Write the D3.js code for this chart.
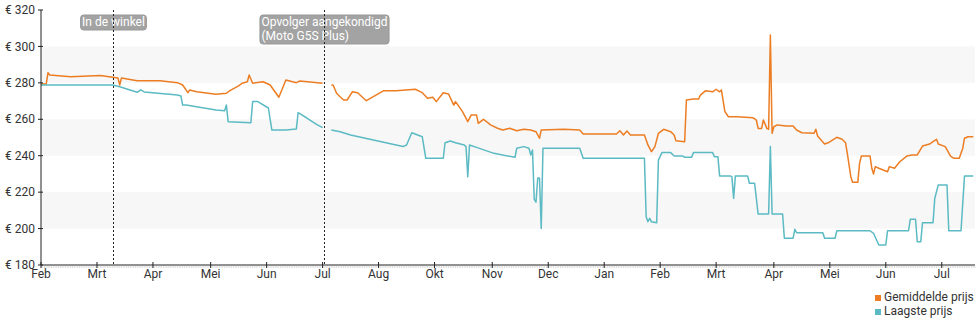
<!DOCTYPE html>
<html>
<head>
<meta charset="utf-8">
<script src="https://cdn.jsdelivr.net/npm/d3@7"></script>
<style>
  body { margin: 0; background: #fff; }
  svg { font-family: Roboto, "Noto Sans", sans-serif; }
</style>
</head>
<body>
<svg id="chart" width="980" height="325"></svg>
<script>
// days counted from the first day shown on the chart
const totalDays = 534;

// x-axis ticks (day offsets) and their month labels
const tickDays = [0, 32, 64, 97, 129, 161, 193, 225, 258, 290, 322, 354, 386, 419, 451, 483, 515];
const tickLabels = ['Feb', 'Mrt', 'Apr', 'Mei', 'Jun', 'Jul', 'Aug', 'Okt', 'Nov', 'Dec', 'Jan', 'Feb', 'Mrt', 'Apr', 'Mei', 'Jun', 'Jul'];

// price axis
const priceTicks = [180, 200, 220, 240, 260, 280, 300, 320];
const bands = [[280, 300], [240, 260], [200, 220]];

// events shown as dotted markers
const events = [
  { day: 41, lines: ['In de winkel'] },
  { day: 162, lines: ['Opvolger aangekondigd', '(Moto G5S Plus)'] }
];

// gemiddelde prijs: [day, price]
const avgPrice = [
  [0, 279.4], [3, 279.4], [4, 285.6], [5, 284.3], [17, 283.4], [34, 284.1], [41, 283.1], [44, 282.7],
  [45, 278.8], [46, 282.7], [55, 281.2], [68, 281.2], [78, 280.1], [81, 278.8], [84, 274.6], [85, 276.1],
  [89, 275.1], [100, 273.7], [106, 274.3], [108, 275.7], [113, 278.3], [115, 279.8], [118, 280.6],
  [119, 284.3], [121, 279.8], [127, 280.6], [131, 278.8], [136, 272.1], [140, 281.6], [146, 280.1],
  [148, 281], [161, 279.8], [163, null], [166, 278.8], [167, 278.8], [169, 274.3], [171, 272.4],
  [173, 270.6], [175, 270.6], [178, 275.1], [181, 274.6], [186, 270.2], [190, 272.4], [196, 275.7],
  [203, 275.7], [214, 276.5], [218, 274.6], [221, 271.5], [224, 272.1], [226, 269.7], [230, 274.6],
  [233, 273.9], [236, 267.8], [237, 269.7], [241, 264.2], [244, 258.7], [246, 262.4], [249, 262.4],
  [250, 257.8], [253, 260], [257, 256.9], [261, 255.1], [264, 254.1], [268, 255.1], [272, 253.7],
  [276, 254.5], [280, 254.1], [283, 253.2], [285, 249.6], [286, 254.1], [299, 254.5], [308, 254.1],
  [310, 251.9], [329, 251.9], [331, 253.7], [333, 251.4], [335, 253.6], [337, 251.4], [345, 251.4],
  [347, 245.9], [349, 242.2], [351, 245], [353, 252.3], [356, 254.5], [360, 253.2], [362, 251.4],
  [363, 248.2], [368, 247.7], [369, 270.6], [373, 271.1], [376, 271.1], [377, 273.3], [380, 275.7],
  [384, 275.1], [386, 276.5], [388, 275.1], [389, 276.1], [391, 264.2], [393, 261.4], [398, 261.4],
  [407, 260.9], [409, 259.6], [410, 255], [412, 255], [413, 259.6], [415, 255], [416, 254.5],
  [417, 306.3], [418, 252.3], [419, 255.9], [421, 256.9], [426, 256.3], [430, 256.3], [432, 254.1],
  [435, 252.6], [442, 252.3], [443, 254.5], [444, 250.8], [448, 246.4], [450, 247.1], [455, 250.1],
  [458, 249], [460, 247.1], [461, 241.3], [463, 228.5], [464, 225.4], [467, 225.4], [468, 235.8],
  [469, 239.8], [474, 239.8], [475, 233.1], [476, 230], [477, 234], [479, 233.1], [484, 231.2],
  [485, 234], [488, 233.1], [491, 236.7], [495, 239.8], [498, 240.4], [501, 240.4], [504, 245.3],
  [508, 246.4], [510, 247.7], [512, 249], [513, 246.4], [517, 245], [520, 239.8], [522, 238.6],
  [525, 238.6], [527, 244.1], [528, 249.6], [530, 250.4], [533, 250.4]
];

// laagste prijs: [day, price]
const lowPrice = [
  [0, 278.8], [41, 278.8], [45, 277.9], [55, 274.8], [57, 276.1], [59, 275], [78, 273.3], [80, 272.8],
  [81, 267.8], [83, 267.8], [100, 265.1], [105, 264.7], [106, 267.8], [107, 258.7], [120, 258.1],
  [121, 269.7], [124, 269.7], [130, 266.2], [132, 254.1], [140, 254.1], [146, 254.7], [147, 263.6],
  [152, 260.7], [158, 256.9], [161, 255.4], [163, null], [166, 254.1], [171, 253.2], [177, 251.4],
  [190, 248.6], [207, 245], [209, 245.9], [212, 252.6], [218, 250.4], [220, 238.6], [230, 238.6],
  [231, 247.1], [234, 248.1], [237, 247.1], [242, 245.9], [243, 245], [244, 228.5], [245, 245.9],
  [249, 244.6], [259, 241.3], [271, 239.1], [272, 244.1], [276, 245], [279, 244.1], [280, 240.4],
  [281, 243.1], [282, 216], [283, 214.5], [284, 227.8], [285, 227.8], [286, 200], [287, 244.1],
  [308, 244.1], [310, 238.6], [345, 238.6], [346, 206.5], [347, 203.8], [348, 205.6], [349, 203.8],
  [352, 203.2], [353, 237.6], [355, 241.7], [360, 241.7], [362, 239.8], [367, 239.8], [368, 239.1],
  [372, 239.1], [373, 241.7], [384, 241.7], [385, 239.5], [387, 239.5], [388, 228.9], [394, 228.9],
  [395, 228.5], [396, 216.6], [397, 228.9], [404, 228.9], [405, 224.9], [408, 224.9], [410, 208],
  [416, 208], [417, 245], [418, 208], [424, 208], [425, 194.7], [430, 194.7], [431, 199.6],
  [432, 197.7], [447, 197.7], [448, 194.7], [454, 194.7], [455, 198.8], [474, 198.8], [476, 197.4],
  [479, 191], [483, 191], [484, 198.8], [496, 198.8], [497, 205.1], [500, 205.1], [501, 192.8],
  [503, 192.8], [504, 203.2], [510, 203.2], [511, 216.6], [513, 223.9], [518, 223.9], [519, 198.8],
  [526, 198.8], [528, 228.9], [533, 228.9]
];

const series = [
  { name: 'Gemiddelde prijs', color: '#ec7d23', values: avgPrice },
  { name: 'Laagste prijs', color: '#5bbac3', values: lowPrice }
];

const margin = { top: 10, right: 5, bottom: 60, left: 41 };
const svg = d3.select('#chart');
const width = +svg.attr('width') - margin.left - margin.right;
const height = +svg.attr('height') - margin.top - margin.bottom;
const textColor = '#333';

const x = d3.scaleLinear().domain([0, totalDays]).range([0, width]);
const y = d3.scaleLinear().domain([180, 320]).range([height, 0]);

const g = svg.append('g').attr('transform', `translate(${margin.left},${margin.top})`);

// alternating background bands
g.selectAll('.band')
  .data(bands)
  .enter().append('rect')
    .attr('class', 'band')
    .attr('x', 0)
    .attr('width', width)
    .attr('y', d => y(d[1]))
    .attr('height', d => y(d[0]) - y(d[1]))
    .attr('fill', '#f7f7f7');

// price lines
const line = d3.line()
  .defined(d => d[1] !== null)
  .x(d => x(d[0]))
  .y(d => y(d[1]));

g.selectAll('.series')
  .data(series)
  .enter().append('path')
    .attr('class', 'series')
    .attr('d', d => line(d.values))
    .attr('fill', 'none')
    .attr('stroke', d => d.color)
    .attr('stroke-width', 1.5)
    .attr('stroke-linejoin', 'round');

// y axis
const yAxis = g.append('g');
yAxis.append('line')
  .attr('x1', 0).attr('x2', 0)
  .attr('y1', 0).attr('y2', height)
  .attr('stroke', '#222');
const yTick = yAxis.selectAll('.ytick')
  .data(priceTicks)
  .enter().append('g')
    .attr('class', 'ytick')
    .attr('transform', d => `translate(0,${y(d)})`);
yTick.append('line')
  .attr('x1', -3).attr('x2', 2)
  .attr('stroke', '#222');
yTick.append('text')
  .attr('x', -6)
  .attr('dy', '0.35em')
  .attr('text-anchor', 'end')
  .attr('font-size', 12)
  .attr('fill', textColor)
  .text(d => '€ ' + d);

// x axis with daily minor ticks
const xAxis = g.append('g').attr('transform', `translate(0,${height})`);
xAxis.selectAll('.minor')
  .data(d3.range(0, totalDays + 1))
  .enter().append('line')
    .attr('class', 'minor')
    .attr('x1', d => x(d)).attr('x2', d => x(d))
    .attr('y1', 1).attr('y2', 3)
    .attr('stroke', '#c8c8c8')
    .attr('stroke-width', 0.6);
xAxis.append('line')
  .attr('x1', 0).attr('x2', width)
  .attr('stroke', '#222');
const xTick = xAxis.selectAll('.xtick')
  .data(tickDays)
  .enter().append('g')
    .attr('class', 'xtick')
    .attr('transform', d => `translate(${x(d)},0)`);
xTick.append('line')
  .attr('y1', -3).attr('y2', 3)
  .attr('stroke', '#222');
xTick.append('text')
  .attr('y', 13)
  .attr('text-anchor', 'middle')
  .attr('font-size', 12)
  .attr('fill', textColor)
  .text((d, i) => tickLabels[i]);

// event markers with labels
events.forEach(ev => {
  const ex = Math.round(x(ev.day)) + 0.5;
  const label = g.append('g');
  const txt = label.append('text')
    .attr('font-size', 12)
    .attr('fill', '#fff');
  ev.lines.forEach((l, i) => {
    txt.append('tspan')
      .attr('x', 0)
      .attr('y', 11 + i * 14)
      .text(l);
  });
  const w = txt.node().getBBox().width + 3;
  const h = ev.lines.length * 14 + 1;
  label.insert('rect', 'text')
    .attr('x', -1.5)
    .attr('y', 0)
    .attr('width', w)
    .attr('height', h)
    .attr('rx', 3)
    .attr('fill', '#a3a3a3')
    .attr('stroke', '#999');
  label.attr('transform', `translate(${ex - w / 2 + 1.5},5)`);

  g.append('line')
    .attr('x1', ex).attr('x2', ex)
    .attr('y1', 0).attr('y2', height)
    .attr('stroke', '#222')
    .attr('stroke-dasharray', '2,2');
});

// legend
const legend = svg.append('g').attr('transform', 'translate(875,295)');
const item = legend.selectAll('.item')
  .data(series)
  .enter().append('g')
    .attr('class', 'item')
    .attr('transform', (d, i) => `translate(0,${i * 14})`);
item.append('rect')
  .attr('width', 6).attr('height', 6)
  .attr('fill', d => d.color);
item.append('text')
  .attr('x', 9)
  .attr('y', 6)
  .attr('font-size', 12)
  .attr('fill', textColor)
  .text(d => d.name);
</script>
</body>
</html>
